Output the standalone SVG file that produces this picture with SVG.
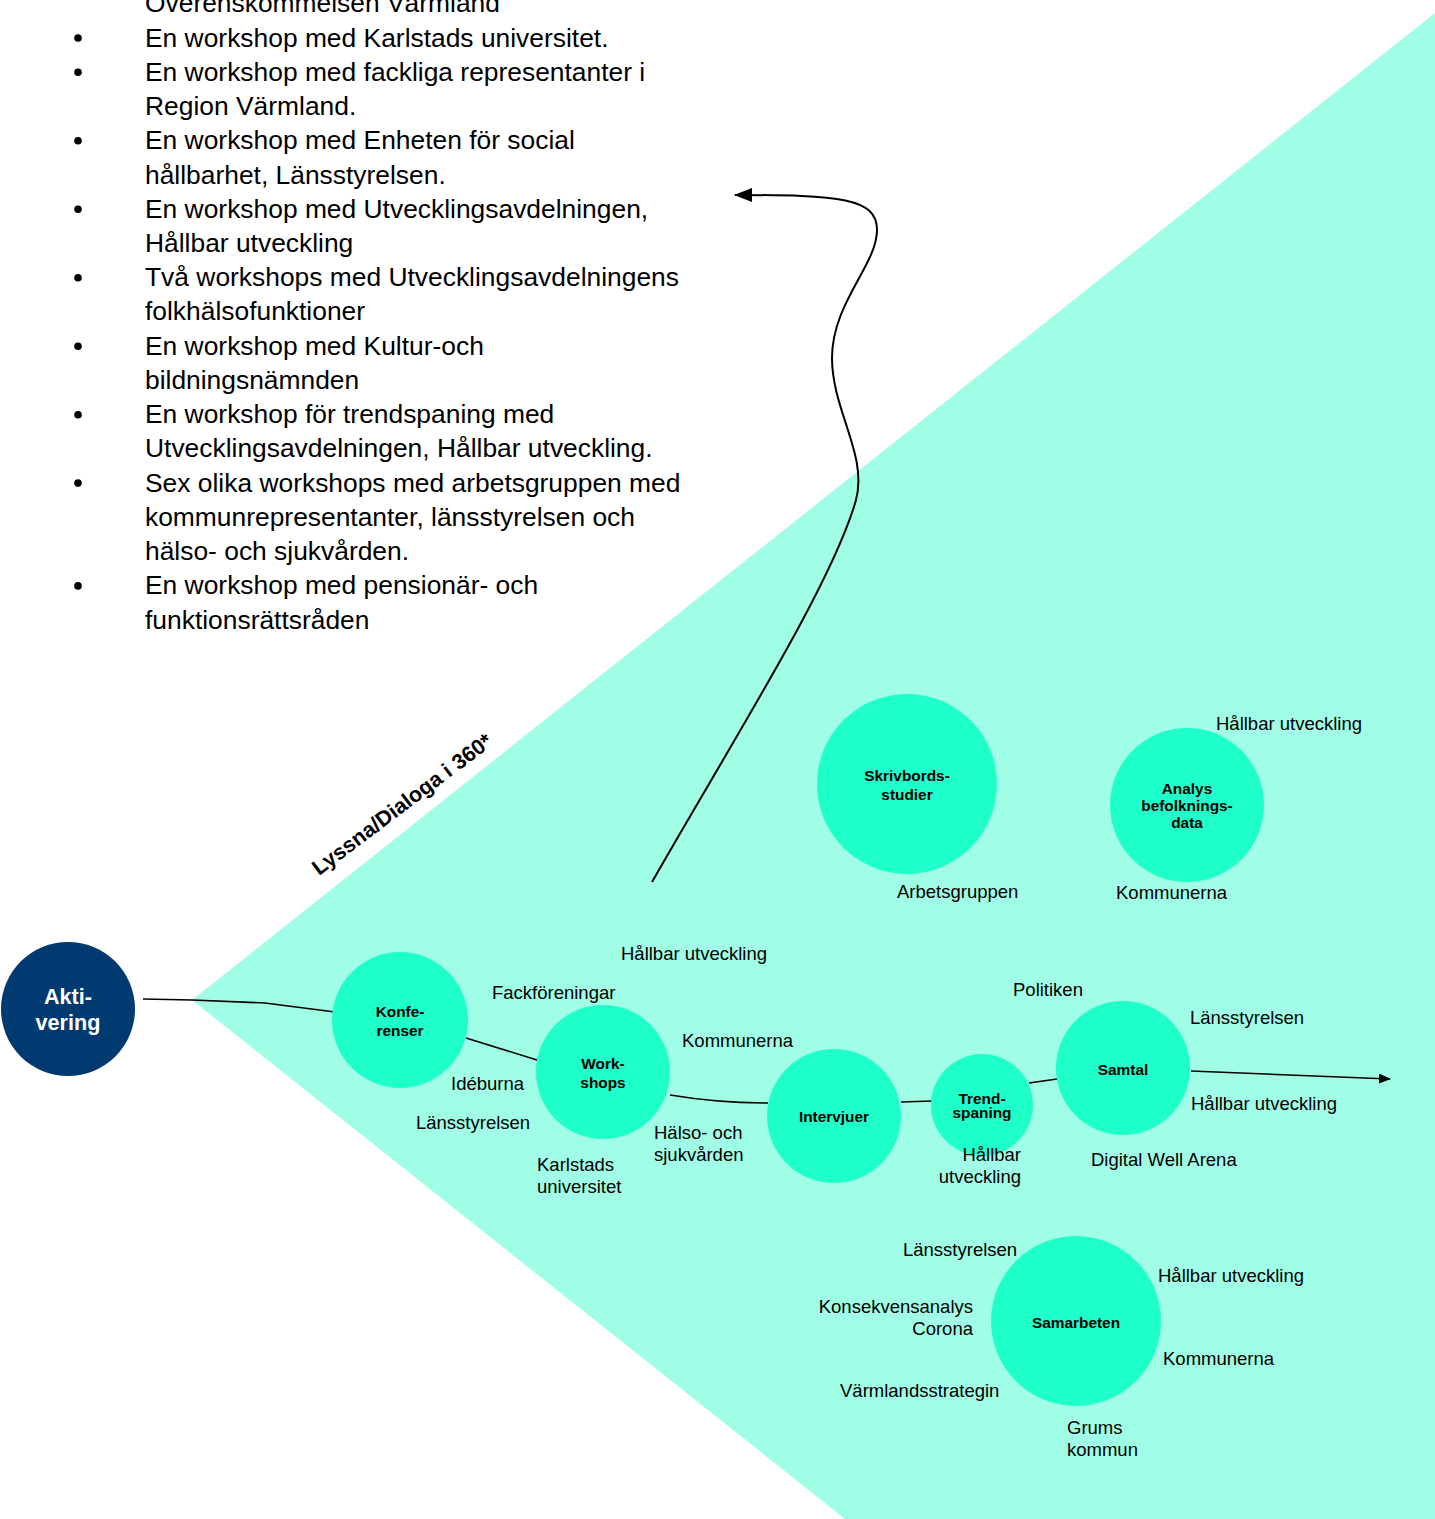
<svg xmlns="http://www.w3.org/2000/svg" width="1435" height="1519" viewBox="0 0 1435 1519">
<defs>
<style>
.list{font-family:"Liberation Sans",Arial,sans-serif;font-size:26.4px;fill:#000}
.lbl{font-family:"Liberation Sans",Arial,sans-serif;font-size:18.5px;fill:#000}
.nt{font-family:"Liberation Sans",Arial,sans-serif;font-weight:bold;font-size:15.4px;fill:#000;text-anchor:middle}
.c{fill:#1effca}
.ln{fill:none;stroke:#000;stroke-width:1.6}
</style>
<marker id="ah" markerWidth="12" markerHeight="10" refX="11" refY="5" orient="auto" markerUnits="userSpaceOnUse">
<path d="M0,0 L12,5 L0,10 Z" fill="#000"/>
</marker>
<marker id="ah2" markerWidth="18" markerHeight="16" refX="17" refY="8" orient="auto" markerUnits="userSpaceOnUse">
<path d="M0,1 L18,8 L0,15 Z" fill="#000"/>
</marker>
</defs>
<rect width="1435" height="1519" fill="#fff"/>
<polygon id="bg" points="192,1000 1435,13 1435,1519 845,1519" fill="#9ffee5"/>

<g id="list" class="list">
<text x="145" y="12.3">Överenskommelsen Värmland</text>
<text x="145" y="46.5">En workshop med Karlstads universitet.</text>
<text x="145" y="80.7">En workshop med fackliga representanter i</text>
<text x="145" y="115">Region Värmland.</text>
<text x="145" y="149.2">En workshop med Enheten för social</text>
<text x="145" y="183.5">hållbarhet, Länsstyrelsen.</text>
<text x="145" y="217.7">En workshop med Utvecklingsavdelningen,</text>
<text x="145" y="252">Hållbar utveckling</text>
<text x="145" y="286.2">Två workshops med Utvecklingsavdelningens</text>
<text x="145" y="320.4">folkhälsofunktioner</text>
<text x="145" y="354.7">En workshop med Kultur-och</text>
<text x="145" y="388.9">bildningsnämnden</text>
<text x="145" y="423.2">En workshop för trendspaning med</text>
<text x="145" y="457.4">Utvecklingsavdelningen, Hållbar utveckling.</text>
<text x="145" y="491.6">Sex olika workshops med arbetsgruppen med</text>
<text x="145" y="525.9">kommunrepresentanter, länsstyrelsen och</text>
<text x="145" y="560.1">hälso- och sjukvården.</text>
<text x="145" y="594.4">En workshop med pensionär- och</text>
<text x="145" y="628.6">funktionsrättsråden</text>
<g fill="#000">
<circle cx="78" cy="38" r="3.8"/>
<circle cx="78" cy="72.2" r="3.8"/>
<circle cx="78" cy="140.7" r="3.8"/>
<circle cx="78" cy="209.2" r="3.8"/>
<circle cx="78" cy="277.7" r="3.8"/>
<circle cx="78" cy="346.2" r="3.8"/>
<circle cx="78" cy="414.7" r="3.8"/>
<circle cx="78" cy="483.1" r="3.8"/>
<circle cx="78" cy="585.9" r="3.8"/>
</g>
</g>

<text id="title" transform="translate(319,876) rotate(-37)" font-family="Liberation Sans,Arial,sans-serif" font-weight="bold" font-size="21.5" fill="#000">Lyssna/Dialoga i 360*</text>

<g id="connectors">
<path class="ln" d="M143,999 L192,1000 L265,1003 L335,1012"/>
<path class="ln" d="M466,1038 L537,1060"/>
<path class="ln" d="M670,1095 C700,1100 740,1103 768,1103"/>
<path class="ln" d="M901,1102 L932,1101"/>
<path class="ln" d="M1029,1083 L1057,1079"/>
<path class="ln" d="M1191,1071 L1390,1079" marker-end="url(#ah)"/>
<path fill="none" stroke="#000" stroke-width="2" d="M652,882 C730,745 832,585 856,500 C868,455 832,410 832,358 C832,303 877,265 877,230 C877,198 840,195 735,195" marker-end="url(#ah2)"/>
</g>

<g id="aktivering">
<circle cx="68" cy="1009" r="67" fill="#003a70"/>
<text x="68" y="1004" font-family="Liberation Sans,Arial,sans-serif" font-weight="bold" font-size="21.6" fill="#fff" text-anchor="middle">Akti-</text>
<text x="68" y="1030" font-family="Liberation Sans,Arial,sans-serif" font-weight="bold" font-size="21.6" fill="#fff" text-anchor="middle">vering</text>
</g>

<g id="konferenser">
<circle class="c" cx="400" cy="1020" r="68"/>
<text class="nt" x="400" y="1016.5">Konfe-</text>
<text class="nt" x="400" y="1035.5">renser</text>
</g>

<g id="workshops">
<circle class="c" cx="603" cy="1072" r="67"/>
<text class="nt" x="603" y="1068.5">Work-</text>
<text class="nt" x="603" y="1087.5">shops</text>
</g>

<g id="intervjuer">
<circle class="c" cx="834" cy="1116" r="67"/>
<text class="nt" x="834" y="1121.5">Intervjuer</text>
</g>

<g id="trendspaning">
<circle class="c" cx="982" cy="1105" r="51"/>
<text class="nt" x="982" y="1103.5" font-size="12.6">Trend-</text>
<text class="nt" x="982" y="1118" font-size="12.6">spaning</text>
</g>

<g id="samtal">
<circle class="c" cx="1123" cy="1068" r="67"/>
<text class="nt" x="1123" y="1074.5">Samtal</text>
</g>

<g id="skrivbordsstudier">
<circle class="c" cx="907" cy="784" r="90"/>
<text class="nt" x="907" y="781">Skrivbords-</text>
<text class="nt" x="907" y="800">studier</text>
</g>

<g id="analys">
<circle class="c" cx="1187" cy="805" r="77"/>
<text class="nt" x="1187" y="794" font-size="13.8">Analys</text>
<text class="nt" x="1187" y="811" font-size="13.8">befolknings-</text>
<text class="nt" x="1187" y="828" font-size="13.8">data</text>
</g>

<g id="samarbeten">
<circle class="c" cx="1076" cy="1321" r="85"/>
<text class="nt" x="1076" y="1328">Samarbeten</text>
</g>

<g id="labels" class="lbl">
<text x="1216" y="730">Hållbar utveckling</text>
<text x="897" y="898">Arbetsgruppen</text>
<text x="1116" y="899">Kommunerna</text>
<text x="621" y="960">Hållbar utveckling</text>
<text x="492" y="999">Fackföreningar</text>
<text x="1013" y="996">Politiken</text>
<text x="1190" y="1024">Länsstyrelsen</text>
<text x="682" y="1047">Kommunerna</text>
<text x="451" y="1090">Idéburna</text>
<text x="1191" y="1110">Hållbar utveckling</text>
<text x="416" y="1129">Länsstyrelsen</text>
<text x="654" y="1139">Hälso- och</text>
<text x="654" y="1161">sjukvården</text>
<text x="537" y="1171">Karlstads</text>
<text x="537" y="1193">universitet</text>
<text x="1021" y="1161" text-anchor="end">Hållbar</text>
<text x="1021" y="1183" text-anchor="end">utveckling</text>
<text x="1091" y="1166">Digital Well Arena</text>
<text x="903" y="1256">Länsstyrelsen</text>
<text x="1158" y="1282">Hållbar utveckling</text>
<text x="973" y="1313" text-anchor="end">Konsekvensanalys</text>
<text x="973" y="1335" text-anchor="end">Corona</text>
<text x="1163" y="1365">Kommunerna</text>
<text x="840" y="1397">Värmlandsstrategin</text>
<text x="1067" y="1434">Grums</text>
<text x="1067" y="1456">kommun</text>
</g>
</svg>
